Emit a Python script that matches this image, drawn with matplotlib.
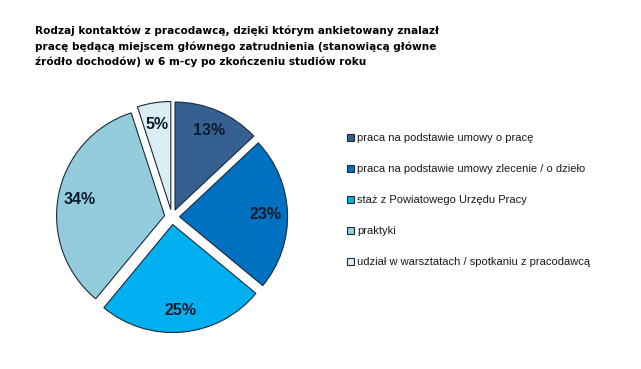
import matplotlib.pyplot as plt

labels = [
    "praca na podstawie umowy o pracę",
    "praca na podstawie umowy zlecenie / o dzieło",
    "staż z Powiatowego Urzędu Pracy",
    "praktyki",
    "udział w warsztatach / spotkaniu z pracodawcą",
]
values = [13, 23, 25, 34, 5]
colors = ["#376092", "#0070C0", "#00B0F0", "#93CDDD", "#DBEEF4"]

title = ("Rodzaj kontaktów z pracodawcą, dzięki którym ankietowany znalazł\n"
         "pracę będącą miejscem głównego zatrudnienia (stanowiącą główne\n"
         "źródło dochodów) w 6 m-cy po zkończeniu studiów roku")

fig = plt.figure(figsize=(6.41, 3.69), dpi=100)
fig.text(35 / 641, 1 - 26 / 369, title, fontsize=7.6, fontweight="bold",
         family="DejaVu Sans", va="top", ha="left", linespacing=1.55)

ax = fig.add_axes([37 / 641, 1 - 352 / 369, 270 / 641, 270 / 369])
wedges, texts, autotexts = ax.pie(
    values, colors=colors, startangle=90, counterclock=False,
    explode=[0.07] * len(values), radius=1.0,
    autopct="%d%%", pctdistance=0.80,
    wedgeprops=dict(edgecolor="#1a2a3a", linewidth=0.8),
    textprops=dict(fontsize=11.5, fontweight="bold", family="Liberation Sans",
                   color="#0d1a2b"),
)
ax.set_aspect("equal")

leg = fig.legend(wedges, labels, loc="upper left",
                 bbox_to_anchor=(347 / 641, 1 - 133 / 369),
                 frameon=False, labelspacing=1.89,
                 handlelength=0.6, handleheight=0.6, handletextpad=0.3,
                 borderaxespad=0, borderpad=0,
                 prop=dict(family="Liberation Sans", size=8))
for h in leg.legend_handles:
    h.set_edgecolor("#1a2a3a")
    h.set_linewidth(0.8)
for t in leg.get_texts():
    t.set_color("#1a1a1a")

fig.savefig("out.png", dpi=100)
